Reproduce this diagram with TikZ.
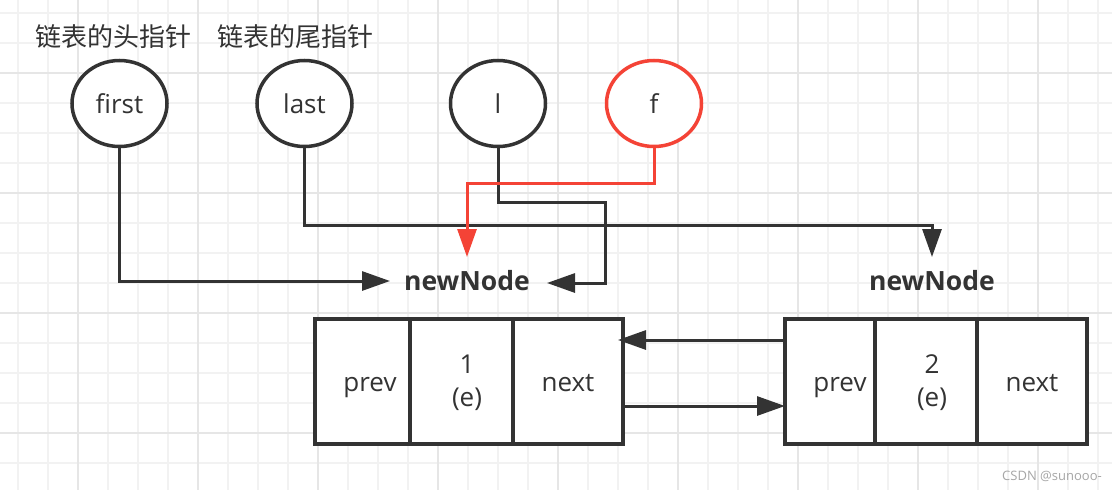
\documentclass[tikz,border=0pt]{standalone}
\usepackage{fontspec}
\setmainfont{Open Sans}
\newfontfamily\cjk{Noto Sans CJK SC}
\usetikzlibrary{arrows.meta,shapes.geometric}
\definecolor{ink}{HTML}{333333}
\definecolor{redc}{HTML}{F44336}
\definecolor{gminor}{HTML}{F2F2F2}
\definecolor{gmajor}{HTML}{E6E6E6}
\begin{document}
\begin{tikzpicture}[x=1pt,y=-1pt,
  ptr/.style={ellipse,draw=ink,line width=3.5pt,fill=white,minimum width=95pt,minimum height=86pt,inner sep=0pt,text=ink,font=\fontsize{26}{30}\selectfont},
  cell/.style={draw=ink,line width=4pt,fill=white,minimum height=125pt,inner sep=0pt},
  txt/.style={text=ink,font=\fontsize{26}{30}\selectfont,inner sep=0pt,anchor=base},
  bold/.style={text=ink,font=\fontsize{26.5}{30}\selectfont\bfseries,inner sep=0pt,anchor=base},
  cjklab/.style={text=ink,font=\cjk\fontsize{26}{30}\selectfont,inner sep=0pt},
  conn/.style={draw=ink,line width=3pt,-{Triangle[length=28pt,width=19pt]}},
  redconn/.style={draw=redc,line width=3pt,-{Triangle[length=28pt,width=19pt]}}
]
\useasboundingbox (0,0) rectangle (1112,490);
\fill[white] (0,0) rectangle (1112,490);
% grid
\foreach \x in {18,48,...,1110} \draw[gminor,line width=1.2pt] (\x,0) -- (\x,490);
\foreach \y in {13,43,...,490} \draw[gminor,line width=1.2pt] (0,\y) -- (1112,\y);
\foreach \x in {78,198,...,1110} \draw[gmajor,line width=1.2pt] (\x,0) -- (\x,490);
\foreach \y in {73,193,...,490} \draw[gmajor,line width=1.2pt] (0,\y) -- (1112,\y);

% labels
\node[cjklab] (lh) at (113,37) {链表的头指针};
\node[cjklab] (lt) at (295,37) {链表的尾指针};

% newNode labels
\node[bold] (nn1) at (467,290) {newNode};
\node[bold] (nn2) at (932,290) {newNode};

% arrow end coordinates
\coordinate (firstend) at (390,281);
\coordinate (lend) at (547,283);
\coordinate (fend) at (467,257);
\coordinate (lastend) at (932,257);
\coordinate (b1r) at (618,340);
\coordinate (b2l) at (785,406);

% boxes (cells)
\node[cell,minimum width=95pt] (p1) at (362.5,381.5) {};
\node[cell,minimum width=103pt] (d1) at (461.5,381.5) {};
\node[cell,minimum width=110pt] (n1) at (568,381.5) {};
\node[cell,minimum width=90pt] (p2) at (830,381.5) {};
\node[cell,minimum width=102pt] (d2) at (926,381.5) {};
\node[cell,minimum width=110pt] (n2) at (1032,381.5) {};

\node[txt] (tp1) at (370,391) {prev};
\node[txt] (td1) at (467,373) {1};
\node[txt] (te1) at (467,406) {(e)};
\node[txt] (tn1) at (568,391) {next};
\node[txt] (tp2) at (840,391) {prev};
\node[txt] (td2) at (932,373) {2};
\node[txt] (te2) at (932,406) {(e)};
\node[txt] (tn2) at (1032,391) {next};

% connectors between boxes
\path (p2.west) ++(0,-41.5) coordinate (p2a);
\path (n1.east) ++(0,24.5) coordinate (n1b);
\draw[conn] (p2a) -- (b1r);
\draw[conn] (n1b) -- (b2l);

% pointers
\node[ptr] (first) at (119.5,103.5) {first};
\node[ptr] (last) at (304.5,103.5) {last};
\node[ptr] (l) at (498,103.5) {l};
\node[ptr,draw=redc] (f) at (654,103.5) {f};

\draw[conn] (first.south) |- (firstend);
\draw[conn] (last.south) |- (lastend |- 0,225) -- (lastend);
\draw[conn] (l.south) |- (605,202) |- (lend);
\draw[redconn] (f.south) |- (fend |- 0,183) -- (fend);

\node[text=gray!70,font=\fontsize{13}{15}\selectfont,inner sep=0pt] (wm) at (1052,476) {CSDN @sunooo-};
\end{tikzpicture}
\end{document}
